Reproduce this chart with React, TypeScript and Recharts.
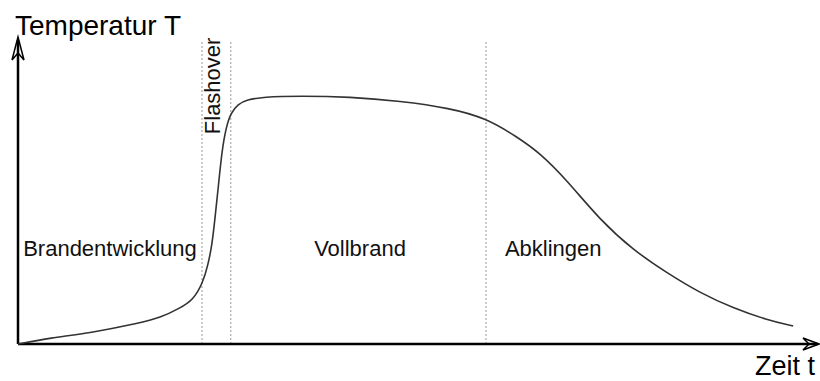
import { LineChart, Line, XAxis, YAxis, ReferenceLine, ReferenceDot } from 'recharts';

// Zeit t und Temperatur T in relativen Einheiten (0..100)
const zeit = [0, 4, 9, 15.25, 17.75, 20.25, 21.9, 23.1, 23.75, 24.25, 24.6, 25.0, 25.5, 26.0, 26.6, 27.5, 28.6, 30.6, 35.25, 41.5, 47.75, 54, 58.5, 62.4, 65.25, 68.6, 72.75, 76.9, 81.1, 85.25, 89.4, 93.6, 96.9];
const temperatur = [0, 2.0, 3.6, 6.9, 8.6, 11.8, 14.5, 20.1, 26.0, 32.6, 40.8, 50.7, 63.8, 71.1, 76.0, 78.9, 80.3, 81.3, 81.6, 81.3, 79.9, 77.6, 74.3, 68.1, 62.8, 53.9, 40.8, 30.9, 23.4, 16.8, 11.8, 7.9, 5.9];

const phasenGrenzen = [23, 26.6, 58.5];
const phasen = ['Brandentwicklung', 'Vollbrand', 'Abklingen'];
const phasenMitte = [11.5, 42.75, 66.9];
const phasenHoehe = 28.9;
const flashoverZeit = 25.25;
const flashoverHoehe = 84.9;

const data = zeit.map((t, i) => ({ t, T: temperatur[i] }));

const font = '"Liberation Sans", Arial, Helvetica, sans-serif';

const centerOf = (vb: any) => ({ cx: vb.x + (vb.width || 0) / 2, cy: vb.y + (vb.height || 0) / 2 });

export default function App() {
  return (
    <div style={{ position: 'absolute', left: 0, top: 0, width: 820, height: 381, background: '#fff' }}>
      <LineChart width={820} height={381} data={data} margin={{ top: 40, right: 2, bottom: 37, left: 18 }}>
        <XAxis dataKey="t" type="number" domain={[0, 100]} hide />
        <YAxis type="number" domain={[0, 100]} hide />
        {phasenGrenzen.map((g) => (
          <ReferenceLine key={g} x={g} stroke="#999" strokeDasharray="2 2" strokeWidth={1} />
        ))}
        {/* Zeitachse mit Pfeil */}
        <ReferenceLine
          y={0}
          stroke="#000"
          strokeWidth={2.5}
          ifOverflow="visible"
          label={(p: any) => {
            const vb = p.viewBox;
            const e = vb.x + vb.width;
            const y = vb.y;
            return (
              <g>
                <path d={`M${e - 15},${y - 6} L${e + 1},${y} L${e - 15},${y + 6} L${e - 9},${y} Z`} fill="none" stroke="#000" strokeWidth={1.5} />
                <text x={e - 3} y={y + 31} textAnchor="end" fontFamily={font} fontSize={27} fill="#000">Zeit t</text>
              </g>
            );
          }}
        />
        {/* Temperaturachse mit Pfeil */}
        <ReferenceLine
          x={0}
          stroke="#000"
          strokeWidth={2.5}
          ifOverflow="visible"
          label={(p: any) => {
            const vb = p.viewBox;
            const x = vb.x;
            const y = vb.y;
            return (
              <g>
                <path d={`M${x - 6},${y + 20} L${x},${y - 3} L${x + 6},${y + 20} L${x},${y + 13} Z`} fill="none" stroke="#000" strokeWidth={1.5} />
                <text x={x - 3} y={y - 5} textAnchor="start" fontFamily={font} fontSize={28} fill="#000">Temperatur T</text>
              </g>
            );
          }}
        />
        {phasen.map((name, i) => (
          <ReferenceDot
            key={name}
            x={phasenMitte[i]}
            y={phasenHoehe}
            r={1}
            fill="none"
            stroke="none"
            label={(p: any) => {
              const { cx, cy } = centerOf(p.viewBox);
              return (
                <text x={cx} y={cy} textAnchor="middle" fontFamily={font} fontSize={22} fill="#111">{name}</text>
              );
            }}
          />
        ))}
        <ReferenceDot
          x={flashoverZeit}
          y={flashoverHoehe}
          r={1}
          fill="none"
          stroke="none"
          label={(p: any) => {
            const { cx, cy } = centerOf(p.viewBox);
            return (
              <text x={cx} y={cy} transform={`rotate(-90 ${cx} ${cy})`} textAnchor="middle" fontFamily={font} fontSize={22} fill="#111">Flashover</text>
            );
          }}
        />
        <Line type="basis" dataKey="T" stroke="#333" strokeWidth={1.6} dot={false} isAnimationActive={false} />
      </LineChart>
    </div>
  );
}
